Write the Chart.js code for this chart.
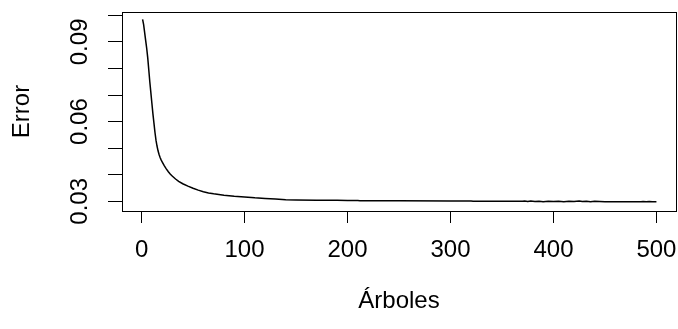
<!DOCTYPE html>
<html lang="es">
<head>
<meta charset="UTF-8">
<title>Error vs Árboles</title>
<script src="https://cdn.jsdelivr.net/npm/chart.js"></script>
<style>
body{margin:0;background:#fff;}
canvas{display:block;}
</style>
</head>
<body>
<canvas id="errChart" width="678" height="329"></canvas>
<script>
// numero de arboles del bosque y su error OOB
const trees = [1,2,3,4,5,6,7,8,9,10,11,12,13,14,15,16,17,18,19,20,22,24,26,28,30,33,36,40,45,50,55,60,65,70,80,90,100,110,120,130,140,150,170,190,200,210,212,250,300,320,322,360,370,372,375,378,382,386,390,395,400,405,410,415,420,425,428,432,436,440,445,450,470,485,487,490,493,496,500];
const errorRate = [0.0985,0.0965,0.0935,0.0905,0.0875,0.0840,0.0795,0.0750,0.0710,0.0670,0.0630,0.0595,0.0560,0.0530,0.0508,0.0490,0.0476,0.0465,0.0456,0.0448,0.0434,0.0422,0.0411,0.0402,0.0394,0.0384,0.0375,0.0366,0.0357,0.0349,0.0342,0.0336,0.0331,0.0328,0.0323,0.0319,0.0316,0.0313,0.0311,0.0309,0.0306,0.0305,0.0304,0.0304,0.0303,0.0303,0.0302,0.0302,0.0301,0.0301,0.0300,0.0300,0.0300,0.0301,0.0299,0.0301,0.0299,0.0300,0.0298,0.0300,0.0299,0.0300,0.0298,0.0300,0.0299,0.0301,0.0299,0.0300,0.0298,0.0300,0.0299,0.0298,0.0298,0.0298,0.0299,0.0298,0.0299,0.0298,0.0298];
const xTicks = [0,100,200,300,400,500];
const yLabelled = [0.03,0.06,0.09];   // R skips the overlapping ones
const xRange = [-19, 519];
const yRange = [0.02635, 0.10124];

const FONT = "'Liberation Sans', Arial, sans-serif";

const boxPlugin = {
  id: 'box',
  afterDraw(chart){
    const a = chart.chartArea, ctx = chart.ctx;
    ctx.save();
    ctx.strokeStyle = '#000'; ctx.lineWidth = 1;
    ctx.strokeRect(Math.floor(a.left)+0.5, Math.floor(a.top)+0.5, Math.round(a.right-a.left), Math.round(a.bottom-a.top));
    ctx.restore();
  }
};

new Chart(document.getElementById('errChart'), {
  type: 'scatter',
  data: {
    datasets: [{
      data: trees.map((t,i)=>({x:t, y:errorRate[i]})),
      showLine: true, borderColor: '#000', borderWidth: 1.5,
      pointRadius: 0, tension: 0, fill: false
    }]
  },
  options: {
    responsive: false, animation: false, devicePixelRatio: 1,
    layout: {padding: {left:0, right:2, top:12, bottom:0}},
    plugins: {legend:{display:false}, tooltip:{enabled:false}},
    scales: {
      x: {
        type: 'linear', min: xRange[0], max: xRange[1],
        border: {display:false},
        grid: {drawOnChartArea:false, drawTicks:true, tickLength:12, tickColor:'#000', tickWidth:1},
        ticks: {
          stepSize: 100, includeBounds: false, autoSkip: false, maxRotation: 0,
          color: '#000', font: {family: FONT, size: 24}, padding: 13,
          callback: v => xTicks.includes(v) ? String(v) : ''
        },
        title: {display:true, text:'Árboles', color:'#000', font:{family:FONT, size:24}, padding:{top:0, bottom:13}},
        afterFit(s){ s.height = 118; s.paddingLeft = 0; s.paddingRight = 0; }
      },
      y: {
        type: 'linear', min: yRange[0], max: yRange[1],
        border: {display:false},
        grid: {drawOnChartArea:false, drawTicks:true, tickLength:14, tickColor:'#000', tickWidth:1},
        ticks: {
          stepSize: 0.01, includeBounds: false, autoSkip: false,
          minRotation: 90, maxRotation: 90, crossAlign: 'center',
          color: '#000', font: {family: FONT, size: 24}, padding: 4,
          callback: v => yLabelled.some(l => Math.abs(l-v) < 1e-6) ? v.toFixed(2) : ''
        },
        title: {display:true, text:'Error', color:'#000', font:{family:FONT, size:24}, padding:{top:8, bottom:0}},
        afterFit(s){ s.width = 122; s.paddingTop = 0; s.paddingBottom = 0; }
      }
    }
  },
  plugins: [boxPlugin]
});
</script>
</body>
</html>
